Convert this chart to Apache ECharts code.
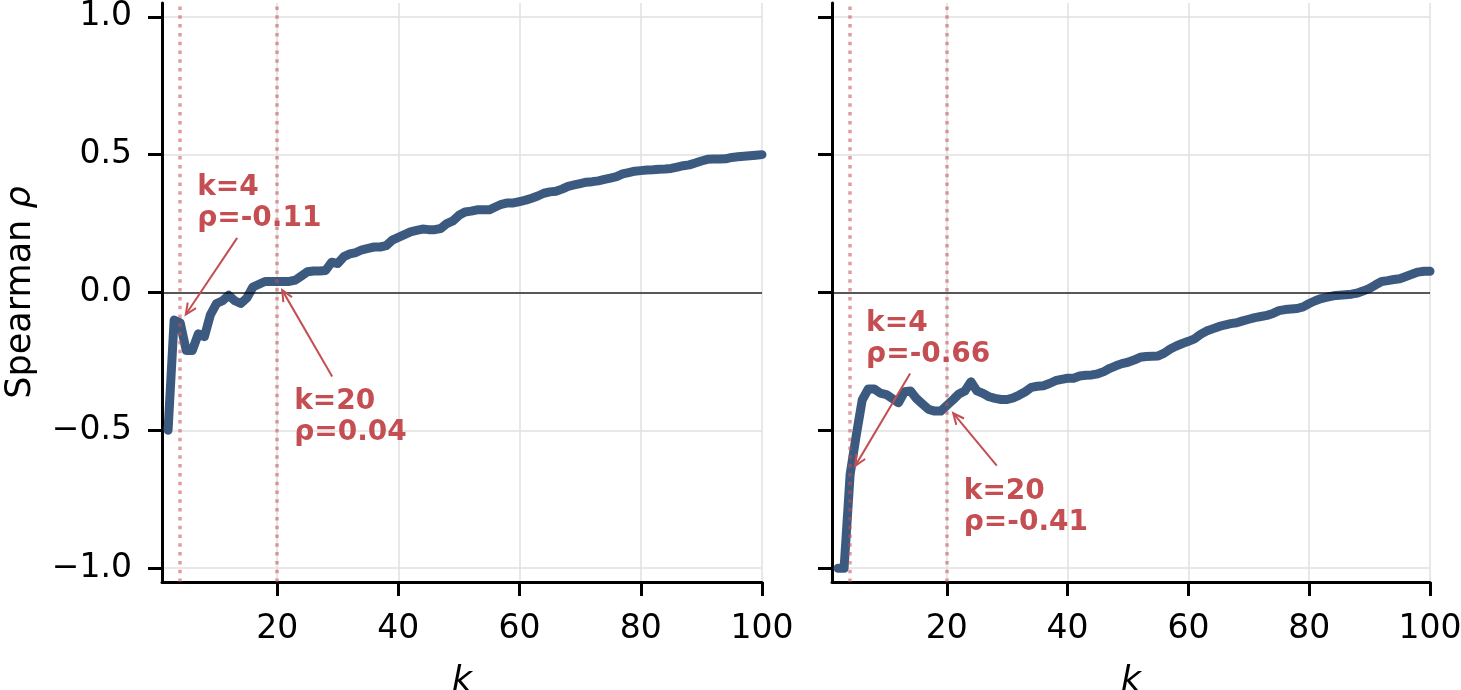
<!DOCTYPE html>
<html><head><meta charset="utf-8">
<script src="https://cdn.jsdelivr.net/npm/echarts@6/dist/echarts.min.js"></script>
<style>html,body{margin:0;padding:0;background:#fff}#c{width:1461px;height:690px}</style>
</head><body><div id="c"></div>
<script>
// ---- data ----
const kValues = [2,3,4,5,6,7,8,9,10,11,12,13,14,15,16,17,18,19,20,21,22,23,24,25,26,27,28,29,30,31,32,33,34,35,36,37,38,39,40,41,42,43,44,45,46,47,48,49,50,51,52,53,54,55,56,57,58,59,60,61,62,63,64,65,66,67,68,69,70,71,72,73,74,75,76,77,78,79,80,81,82,83,84,85,86,87,88,89,90,91,92,93,94,95,96,97,98,99,100];
const rhoLeft = [-0.50,-0.10,-0.11,-0.21,-0.21,-0.15,-0.16,-0.08,-0.04,-0.03,-0.01,-0.03,-0.04,-0.02,0.02,0.03,0.04,0.04,0.04,0.04,0.04,0.045,0.06,0.075,0.078,0.078,0.08,0.11,0.105,0.13,0.14,0.145,0.155,0.16,0.165,0.165,0.17,0.19,0.20,0.21,0.22,0.225,0.23,0.228,0.228,0.232,0.25,0.26,0.28,0.292,0.295,0.30,0.30,0.30,0.31,0.32,0.325,0.325,0.33,0.335,0.342,0.35,0.36,0.365,0.367,0.375,0.385,0.39,0.395,0.40,0.402,0.405,0.41,0.415,0.42,0.43,0.435,0.44,0.442,0.444,0.445,0.447,0.448,0.45,0.455,0.46,0.463,0.47,0.477,0.483,0.484,0.484,0.485,0.49,0.492,0.494,0.496,0.498,0.50];
const rhoRight = [-1.00,-1.00,-0.66,-0.52,-0.39,-0.35,-0.35,-0.365,-0.37,-0.385,-0.40,-0.36,-0.357,-0.385,-0.405,-0.424,-0.43,-0.43,-0.41,-0.39,-0.368,-0.357,-0.324,-0.357,-0.366,-0.378,-0.384,-0.388,-0.388,-0.382,-0.372,-0.36,-0.344,-0.34,-0.338,-0.33,-0.32,-0.315,-0.311,-0.311,-0.303,-0.30,-0.299,-0.295,-0.287,-0.275,-0.266,-0.258,-0.253,-0.245,-0.235,-0.232,-0.231,-0.23,-0.22,-0.205,-0.194,-0.185,-0.177,-0.168,-0.152,-0.14,-0.132,-0.124,-0.118,-0.113,-0.11,-0.103,-0.097,-0.091,-0.087,-0.083,-0.076,-0.066,-0.062,-0.06,-0.058,-0.052,-0.04,-0.03,-0.022,-0.017,-0.012,-0.01,-0.008,-0.006,-0.002,0.006,0.015,0.028,0.04,0.043,0.047,0.05,0.058,0.066,0.074,0.077,0.077];
const xTicks = [20,40,60,80,100];
const yTicks = [-1,-0.5,0,0.5,1];
const markK = [4,20];
const annLeft = [{k:4, rho:-0.11, text:'k=4\nρ=-0.11'}, {k:20, rho:0.04, text:'k=20\nρ=0.04'}];
const annRight = [{k:4, rho:-0.66, text:'k=4\nρ=-0.66'}, {k:20, rho:-0.41, text:'k=20\nρ=-0.41'}];

// ---- style ----
const FONT = 'DejaVu Sans';
const BLUE = '#3c5a80';
const RED = '#c44e52';
const chart = echarts.init(document.getElementById('c'), null, {renderer:'canvas'});

function xAxis(i){
  return {type:'value', gridIndex:i, min:1, max:100,
    axisLine:{show:true, onZero:false, lineStyle:{color:'#000', width:3}},
    axisTick:{show:true, length:14, customValues:xTicks, lineStyle:{color:'#000', width:3}},
    axisLabel:{customValues:xTicks, fontSize:33, fontFamily:FONT, color:'#000', margin:31},
    splitLine:{show:true, lineStyle:{color:'#e0e0e0', width:1.5}},
    name:'k', nameLocation:'middle', nameGap:82,
    nameTextStyle:{fontSize:35, fontStyle:'italic', fontFamily:FONT, color:'#000'}
  };
}
function yAxis(i){
  const a = {type:'value', gridIndex:i, min:-1.05, max:1.05,
    axisLine:{show:true, onZero:false, lineStyle:{color:'#000', width:3}},
    axisTick:{show:true, length:14, customValues:yTicks, lineStyle:{color:'#000', width:3}},
    axisLabel:{show:i===0, customValues:yTicks, fontSize:33, fontFamily:FONT, color:'#000', margin:30,
      formatter:v=>v.toFixed(1).replace('-', '\u2212')},
    splitLine:{show:true, lineStyle:{color:'#e0e0e0', width:1.5}}
  };
  if(i===0){
    a.name='Spearman {i|ρ}'; a.nameLocation='middle'; a.nameGap=124; a.nameRotate=90;
    a.nameTextStyle={fontSize:35, fontFamily:FONT, color:'#000', rich:{i:{fontSize:35, fontStyle:'italic', fontFamily:FONT, color:'#000'}}};
  }
  return a;
}
function series(i, vals){
  return {type:'line', xAxisIndex:i, yAxisIndex:i, showSymbol:false, symbol:'none',
    data:kValues.map((k,j)=>[k, vals[j]]),
    lineStyle:{color:BLUE, width:9, join:'round', cap:'round'}, z:3,
    markLine:{silent:true, symbol:'none', label:{show:false}, z:4, animation:false,
      data:[
        ...markK.map(k=>({xAxis:k, lineStyle:{color:'rgba(196,78,82,0.55)', width:3.5, type:[3.5,5.3]}})),
        {yAxis:0, lineStyle:{color:'rgba(0,0,0,0.62)', width:2.2, type:'solid'}}
      ]}
  };
}
chart.setOption({
  animation:false,
  grid:[{left:162, top:3, width:600, height:579, outerBoundsMode:'none', containLabel:false},
        {left:832, top:3, width:598, height:579, outerBoundsMode:'none', containLabel:false}],
  xAxis:[xAxis(0), xAxis(1)],
  yAxis:[yAxis(0), yAxis(1)],
  series:[series(0, rhoLeft), series(1, rhoRight)]
});

// annotation layout offsets (pixels relative to target): text box top-left, arrow tail
const layoutLeft = [{tx:17, ty:-151, ax:57, ay:-85}, {tx:17, ty:105, ax:55, ay:95}];
const layoutRight = [{tx:16, ty:-166, ax:60, ay:-101}, {tx:17, ty:71, ax:50, ay:60}];
const graphics = [];
function addAnn(si, ann, lay){
  const p = chart.convertToPixel({seriesIndex:si}, [ann.k, ann.rho]);
  graphics.push({type:'text', x:p[0]+lay.tx, y:p[1]+lay.ty, z:10,
    style:{text:ann.text, fontSize:28, fontWeight:'bold', fontFamily:FONT, fill:RED, lineHeight:31, align:'left', verticalAlign:'top'}});
  const sx = p[0]+lay.ax, sy = p[1]+lay.ay;
  const dx = p[0]-sx, dy = p[1]-sy, L = Math.hypot(dx,dy);
  const ux = dx/L, uy = dy/L;
  const ex = p[0]-ux*10, ey = p[1]-uy*10;
  graphics.push({type:'line', z:10, shape:{x1:sx, y1:sy, x2:ex, y2:ey}, style:{stroke:RED, lineWidth:2}});
  const hl = 11, hw = 5;
  graphics.push({type:'polyline', z:10, shape:{points:[
    [ex-ux*hl-uy*hw, ey-uy*hl+ux*hw],[ex,ey],[ex-ux*hl+uy*hw, ey-uy*hl-ux*hw]]},
    style:{stroke:RED, lineWidth:2, fill:null}});
}
annLeft.forEach((a,i)=>addAnn(0,a,layoutLeft[i]));
annRight.forEach((a,i)=>addAnn(1,a,layoutRight[i]));
chart.setOption({graphic:graphics});
</script></body></html>
